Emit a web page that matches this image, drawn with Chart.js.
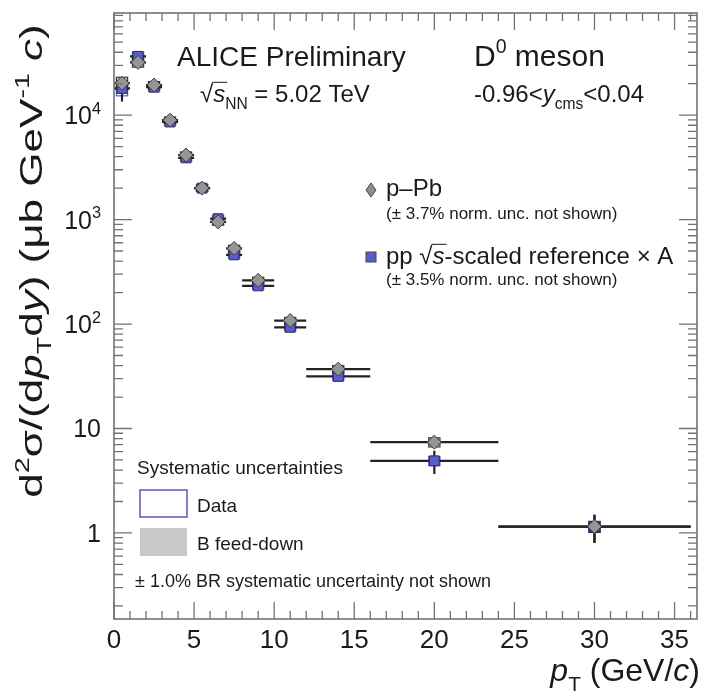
<!DOCTYPE html>
<html>
<head>
<meta charset="utf-8">
<script src="https://cdn.jsdelivr.net/npm/chart.js@4.4.0/dist/chart.umd.min.js"></script>
<style>
  html, body { margin: 0; padding: 0; background: #fff; }
</style>
</head>
<body>
<canvas id="chart" width="705" height="699"></canvas>
<script>
// pT bins (GeV/c)
const binLow = [0, 1, 2, 3, 4, 5, 6, 7, 8, 10, 12, 16, 24];
const binHigh = [1, 2, 3, 4, 5, 6, 7, 8, 10, 12, 16, 24, 36];
const binCenter = [0.5, 1.5, 2.5, 3.5, 4.5, 5.5, 6.5, 7.5, 9, 11, 14, 20, 30];

// p-Pb D0 cross section (ub GeV^-1 c)
const pPbValues = [20200, 32000, 19400, 8950, 4150, 2000, 950, 530, 262, 108, 37, 7.4, 1.15];
const pPbStatRel = [0.12, 0.08, 0.05, 0.04, 0.03, 0.03, 0.04, 0.05, 0.05, 0.06, 0.08, 0.12, 0.3];
const pPbSystRel = [0.14, 0.1, 0.08, 0.07, 0.07, 0.07, 0.07, 0.07, 0.07, 0.07, 0.08, 0.1, 0.12];
const pPbFeedRel = [0.12, 0.1, 0.08, 0.07, 0.06, 0.06, 0.06, 0.06, 0.06, 0.06, 0.06, 0.07, 0.08];

// pp reference, sqrt(s)-scaled, x A
const ppValues = [18000, 36500, 18500, 8600, 3900, 2000, 1020, 460, 232, 93, 31.5, 4.9, 1.15];
const ppStatRel = [0.25, 0.08, 0.05, 0.04, 0.03, 0.03, 0.04, 0.05, 0.05, 0.06, 0.08, 0.25, 0.3];
const ppSystRel = [0.15, 0.1, 0.08, 0.07, 0.07, 0.07, 0.07, 0.07, 0.07, 0.07, 0.08, 0.1, 0.12];

const xTicks = [0, 5, 10, 15, 20, 25, 30, 35];
const yDecades = [0, 1, 2, 3, 4];

const FONT = '"Liberation Sans", Arial, sans-serif';
const INK = "#1a1a1a";

function fontFor(s, size) {
  const sz = (s.sub || s.sup) ? size * 0.65 : size;
  return (s.i ? "italic " : "") + sz.toFixed(1) + "px " + FONT;
}

function drawRich(ctx, segs, x, y, size, align) {
  let w = 0;
  segs.forEach(s => { ctx.font = fontFor(s, size); w += ctx.measureText(s.t).width; });
  let cx = align === "right" ? x - w : align === "center" ? x - w / 2 : x;
  ctx.textAlign = "left";
  ctx.textBaseline = "alphabetic";
  segs.forEach(s => {
    ctx.font = fontFor(s, size);
    const dy = s.sub ? size * 0.3 : s.sup ? -size * 0.42 : 0;
    ctx.fillText(s.t, cx, y + dy);
    const sw = ctx.measureText(s.t).width;
    if (s.ov) {
      ctx.beginPath();
      ctx.lineWidth = 1;
      ctx.moveTo(cx - 1, y - size * 0.82);
      ctx.lineTo(cx + sw + 2, y - size * 0.82);
      ctx.stroke();
    }
    cx += sw;
  });
  return w;
}

const alicePlugin = {
  id: "alice",
  beforeDatasetsDraw(chart) {
    const { ctx, scales: { x, y } } = chart;
    ctx.save();
    const bw = 0.35;
    // systematic boxes
    binCenter.forEach((c, i) => {
      const x0 = x.getPixelForValue(c - bw), x1 = x.getPixelForValue(c + bw);
      // B feed-down (grey filled)
      let yt = y.getPixelForValue(pPbValues[i] * (1 + pPbFeedRel[i]));
      let yb = y.getPixelForValue(pPbValues[i] * (1 - pPbFeedRel[i]));
      ctx.fillStyle = "#c4c4c4";
      ctx.fillRect(x0, yt, x1 - x0, yb - yt);
      // data syst (open boxes)
      ctx.strokeStyle = "#5a5ab8";
      ctx.lineWidth = 1.2;
      yt = y.getPixelForValue(ppValues[i] * (1 + ppSystRel[i]));
      yb = y.getPixelForValue(ppValues[i] * (1 - ppSystRel[i]));
      ctx.strokeRect(x0, yt, x1 - x0, yb - yt);
      ctx.strokeStyle = "#333";
      yt = y.getPixelForValue(pPbValues[i] * (1 + pPbSystRel[i]));
      yb = y.getPixelForValue(pPbValues[i] * (1 - pPbSystRel[i]));
      ctx.strokeRect(x0, yt, x1 - x0, yb - yt);
    });
    // error bars
    ctx.strokeStyle = "#222";
    ctx.lineWidth = 2.2;
    const bars = (vals, rel) => {
      binCenter.forEach((c, i) => {
        const py = y.getPixelForValue(vals[i]);
        const px = x.getPixelForValue(c);
        ctx.beginPath();
        ctx.moveTo(x.getPixelForValue(binLow[i]), py);
        ctx.lineTo(x.getPixelForValue(binHigh[i]), py);
        ctx.moveTo(px, y.getPixelForValue(vals[i] * (1 + rel[i])));
        ctx.lineTo(px, y.getPixelForValue(vals[i] * (1 - rel[i])));
        ctx.stroke();
      });
    };
    bars(ppValues, ppStatRel);
    bars(pPbValues, pPbStatRel);
    ctx.restore();
  },
  afterDraw(chart) {
    const { ctx, chartArea: a, scales: { x, y } } = chart;
    ctx.save();
    // frame
    ctx.strokeStyle = "#727272";
    ctx.lineWidth = 1.6;
    ctx.strokeRect(a.left, a.top, a.right - a.left, a.bottom - a.top);
    // x ticks (bottom + top), inside
    ctx.lineWidth = 1.3;
    ctx.beginPath();
    for (let v = 0; v <= x.max; v += 1) {
      const px = x.getPixelForValue(v);
      const len = v % 5 === 0 ? 17 : 8;
      ctx.moveTo(px, a.bottom); ctx.lineTo(px, a.bottom - len);
      ctx.moveTo(px, a.top); ctx.lineTo(px, a.top + len);
    }
    // y ticks (left + right), log minor ticks
    for (let d = -1; d <= 5; d++) {
      for (let m = 1; m <= 9; m++) {
        const v = m * Math.pow(10, d);
        if (v < y.min || v > y.max) continue;
        const py = y.getPixelForValue(v);
        const len = m === 1 ? 18 : 9;
        ctx.moveTo(a.left, py); ctx.lineTo(a.left + len, py);
        ctx.moveTo(a.right, py); ctx.lineTo(a.right - len, py);
      }
    }
    ctx.stroke();

    ctx.fillStyle = INK;
    ctx.strokeStyle = INK;
    // x tick labels
    ctx.font = "26px " + FONT;
    ctx.textAlign = "center";
    ctx.textBaseline = "alphabetic";
    xTicks.forEach(v => ctx.fillText(String(v), x.getPixelForValue(v), a.bottom + 29));
    // y tick labels
    yDecades.forEach(d => {
      const py = y.getPixelForValue(Math.pow(10, d)) + 9;
      let segs;
      if (d === 0) segs = [{ t: "1" }];
      else if (d === 1) segs = [{ t: "10" }];
      else segs = [{ t: "10" }, { t: String(d), sup: true }];
      drawRich(ctx, segs, 101, py, 25, "right");
    });

    // axis titles
    drawRich(ctx, [{ t: "p", i: true }, { t: "T", sub: true }, { t: " (GeV/" }, { t: "c", i: true }, { t: ")" }],
      700, 681, 32, "right");
    ctx.save();
    ctx.translate(42, 261);
    ctx.rotate(-Math.PI / 2);
    ctx.scale(1.42, 1);
    drawRich(ctx, [
      { t: "d" }, { t: "2", sup: true }, { t: "\u03c3/(d" }, { t: "p", i: true }, { t: "T", sub: true },
      { t: "d" }, { t: "y", i: true }, { t: ") (\u03bcb GeV" }, { t: "-1", sup: true }, { t: " " }, { t: "c", i: true }, { t: ")" }
    ], 0, 0, 31, "center");
    ctx.restore();

    // header texts
    drawRich(ctx, [{ t: "ALICE Preliminary" }], 177, 66, 28, "left");
    drawRich(ctx, [{ t: "\u221a" }, { t: "s", i: true, ov: true }, { t: "NN", sub: true }, { t: " = 5.02 TeV" }], 200, 102, 24, "left");
    drawRich(ctx, [{ t: "D" }, { t: "0", sup: true }, { t: " meson" }], 474, 66, 30, "left");
    drawRich(ctx, [{ t: "-0.96<" }, { t: "y", i: true }, { t: "cms", sub: true }, { t: "<0.04" }], 474, 102, 24, "left");

    // legend: markers
    ctx.fillStyle = "#8e8e8e";
    ctx.strokeStyle = "#444";
    ctx.lineWidth = 1;
    ctx.beginPath();
    ctx.moveTo(371, 183); ctx.lineTo(376, 190); ctx.lineTo(371, 197); ctx.lineTo(366, 190); ctx.closePath();
    ctx.fill(); ctx.stroke();
    ctx.fillStyle = "#5b5bd0";
    ctx.fillRect(366, 252, 10, 10);
    ctx.strokeRect(366, 252, 10, 10);
    ctx.fillStyle = INK;
    ctx.strokeStyle = INK;
    drawRich(ctx, [{ t: "p\u2013Pb" }], 386, 196, 24, "left");
    drawRich(ctx, [{ t: "(\u00b1 3.7% norm. unc. not shown)" }], 386, 219, 17, "left");
    drawRich(ctx, [{ t: "pp " }, { t: "\u221a" }, { t: "s", i: true, ov: true }, { t: "-scaled reference \u00d7 A" }], 386, 264, 24, "left");
    drawRich(ctx, [{ t: "(\u00b1 3.5% norm. unc. not shown)" }], 386, 285, 17, "left");

    // systematic uncertainties legend
    drawRich(ctx, [{ t: "Systematic uncertainties" }], 137, 474, 19, "left");
    ctx.strokeStyle = "#5a5ab8";
    ctx.lineWidth = 1.5;
    ctx.strokeRect(140, 490, 47, 27);
    ctx.fillStyle = "#c8c8c8";
    ctx.fillRect(140, 528, 47, 28);
    ctx.fillStyle = INK;
    drawRich(ctx, [{ t: "Data" }], 197, 512, 19, "left");
    drawRich(ctx, [{ t: "B feed-down" }], 197, 550, 19, "left");
    drawRich(ctx, [{ t: "\u00b1 1.0% BR systematic uncertainty not shown" }], 135, 587, 18, "left");
    ctx.restore();
  }
};

const chart = new Chart(document.getElementById("chart"), {
  type: "scatter",
  data: {
    datasets: [
      {
        label: "p\u2013Pb",
        data: binCenter.map((c, i) => ({ x: c, y: pPbValues[i] })),
        pointStyle: "rectRot",
        pointRadius: 7,
        backgroundColor: "#959595",
        borderColor: "#3c3c3c",
        borderWidth: 1
      },
      {
        label: "pp reference",
        data: binCenter.map((c, i) => ({ x: c, y: ppValues[i] })),
        pointStyle: "rect",
        pointRadius: 7,
        backgroundColor: "#5b5bd0",
        borderColor: "#2a2a55",
        borderWidth: 1
      }
    ]
  },
  options: {
    responsive: false,
    devicePixelRatio: 1,
    animation: false,
    layout: { padding: { left: 114, right: 8, top: 13, bottom: 80 } },
    scales: {
      x: { type: "linear", min: 0, max: 36.4, display: false },
      y: { type: "logarithmic", min: 0.15, max: 95000, display: false }
    },
    plugins: { legend: { display: false }, tooltip: { enabled: false } }
  },
  plugins: [alicePlugin]
});
</script>
</body>
</html>
